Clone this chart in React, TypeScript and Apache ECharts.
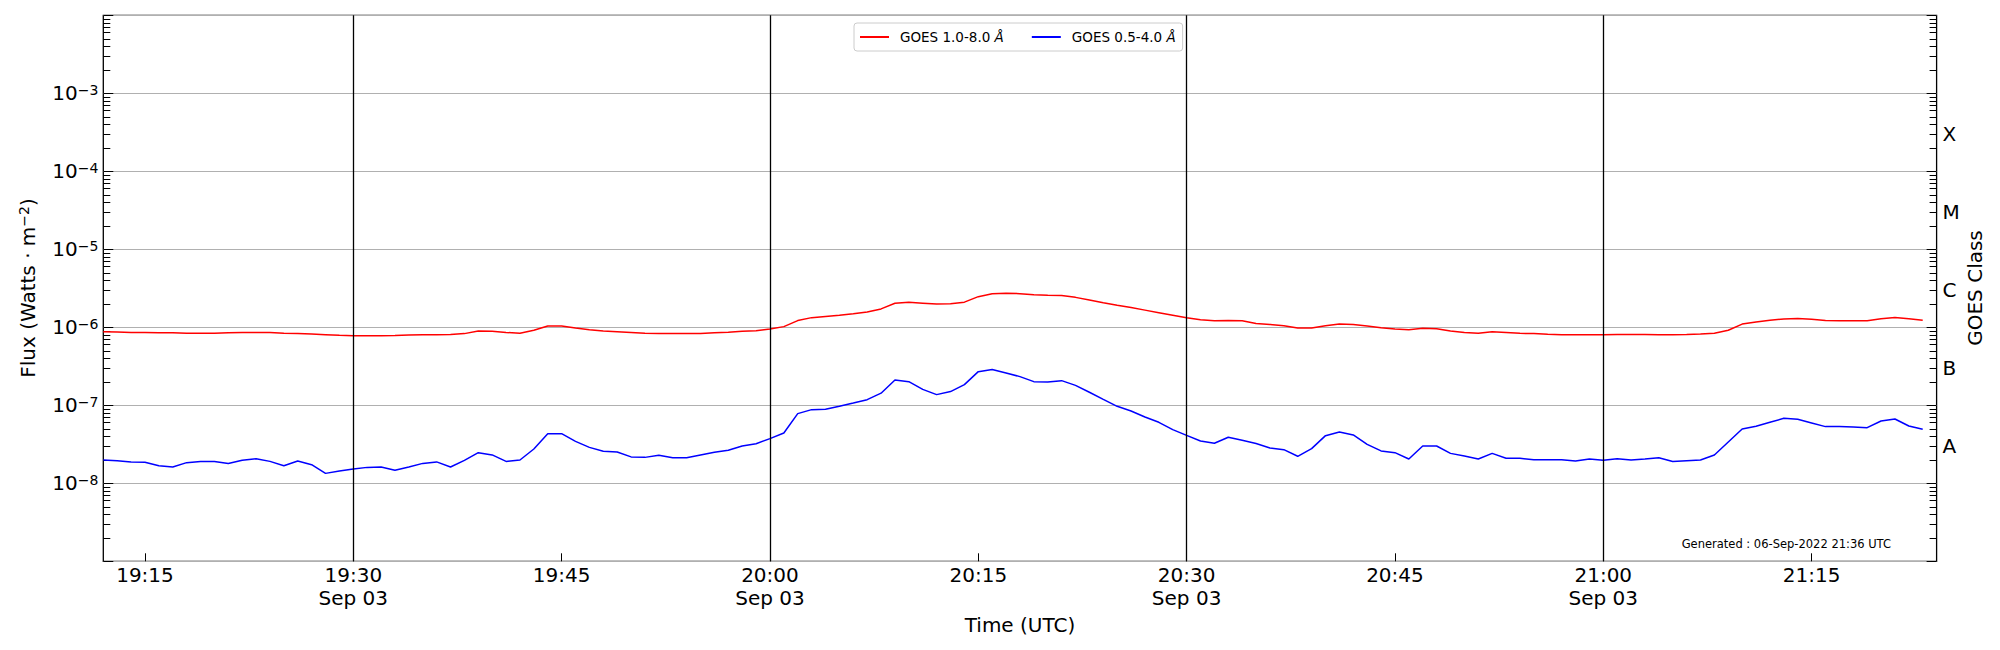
import React, { useEffect, useRef } from "react";
import * as echarts from "echarts";

const FONT = "'DejaVu Sans', sans-serif";

// ---- data (1-minute GOES XRS samples, starting at START_TIME) ----
const START_TIME = "19:12";
const X_MIN_TIME = "19:12";
const X_MAX_TIME = "21:24";

const GOES_LONG = [
  8.8e-7, 8.7e-7, 8.6e-7, 8.6e-7, 8.5e-7, 8.5e-7, 8.4e-7, 8.4e-7, 8.4e-7, 8.5e-7,
  8.6e-7, 8.6e-7, 8.6e-7, 8.4e-7, 8.3e-7, 8.2e-7, 8.05e-7, 7.9e-7, 7.8e-7, 7.8e-7,
  7.8e-7, 7.85e-7, 7.95e-7, 8.0e-7, 8.0e-7, 8.1e-7, 8.3e-7, 8.97e-7, 8.9e-7, 8.6e-7,
  8.4e-7, 9.15e-7, 1.04e-6, 1.04e-6, 9.8e-7, 9.3e-7, 8.97e-7, 8.8e-7, 8.6e-7, 8.4e-7,
  8.3e-7, 8.3e-7, 8.3e-7, 8.35e-7, 8.5e-7, 8.65e-7, 8.9e-7, 9.06e-7, 9.5e-7, 1.02e-6,
  1.22e-6, 1.33e-6, 1.38e-6, 1.43e-6, 1.49e-6, 1.57e-6, 1.72e-6, 2.03e-6, 2.09e-6, 2.04e-6,
  1.99e-6, 2.0e-6, 2.1e-6, 2.47e-6, 2.7e-6, 2.73e-6, 2.7e-6, 2.62e-6, 2.57e-6, 2.56e-6,
  2.42e-6, 2.24e-6, 2.07e-6, 1.92e-6, 1.79e-6, 1.66e-6, 1.54e-6, 1.43e-6, 1.33e-6, 1.25e-6,
  1.21e-6, 1.22e-6, 1.21e-6, 1.12e-6, 1.09e-6, 1.05e-6, 9.8e-7, 9.8e-7, 1.05e-6, 1.1e-6,
  1.09e-6, 1.04e-6, 9.9e-7, 9.5e-7, 9.3e-7, 9.7e-7, 9.6e-7, 8.97e-7, 8.55e-7, 8.4e-7,
  8.8e-7, 8.6e-7, 8.37e-7, 8.3e-7, 8.13e-7, 8.05e-7, 8.05e-7, 8.05e-7, 8.05e-7, 8.1e-7,
  8.1e-7, 8.1e-7, 8.05e-7, 8.05e-7, 8.1e-7, 8.2e-7, 8.4e-7, 9.15e-7, 1.1e-6, 1.17e-6,
  1.23e-6, 1.28e-6, 1.3e-6, 1.27e-6, 1.22e-6, 1.21e-6, 1.21e-6, 1.21e-6, 1.29e-6, 1.34e-6,
  1.29e-6, 1.23e-6,
];

const GOES_SHORT = [
  1.99e-8, 1.95e-8, 1.88e-8, 1.86e-8, 1.68e-8, 1.62e-8, 1.84e-8, 1.9e-8, 1.9e-8, 1.79e-8,
  1.97e-8, 2.07e-8, 1.91e-8, 1.68e-8, 1.93e-8, 1.73e-8, 1.34e-8, 1.44e-8, 1.53e-8, 1.6e-8,
  1.62e-8, 1.47e-8, 1.62e-8, 1.8e-8, 1.88e-8, 1.62e-8, 1.97e-8, 2.47e-8, 2.31e-8, 1.91e-8,
  1.99e-8, 2.75e-8, 4.33e-8, 4.33e-8, 3.45e-8, 2.89e-8, 2.57e-8, 2.52e-8, 2.18e-8, 2.15e-8,
  2.29e-8, 2.13e-8, 2.13e-8, 2.31e-8, 2.5e-8, 2.65e-8, 3.01e-8, 3.22e-8, 3.74e-8, 4.42e-8,
  7.82e-8, 8.8e-8, 8.89e-8, 9.71e-8, 1.07e-7, 1.18e-7, 1.43e-7, 2.11e-7, 2.01e-7, 1.6e-7,
  1.37e-7, 1.5e-7, 1.84e-7, 2.7e-7, 2.87e-7, 2.6e-7, 2.33e-7, 2.01e-7, 1.99e-7, 2.07e-7,
  1.8e-7, 1.47e-7, 1.19e-7, 9.71e-8, 8.45e-8, 7.08e-8, 6.05e-8, 4.88e-8, 4.12e-8, 3.49e-8,
  3.26e-8, 3.89e-8, 3.56e-8, 3.23e-8, 2.84e-8, 2.7e-8, 2.22e-8, 2.78e-8, 4.08e-8, 4.55e-8,
  4.17e-8, 3.16e-8, 2.6e-8, 2.47e-8, 2.05e-8, 3.01e-8, 3.01e-8, 2.42e-8, 2.24e-8, 2.05e-8,
  2.42e-8, 2.09e-8, 2.09e-8, 2.01e-8, 2.01e-8, 2.01e-8, 1.93e-8, 2.05e-8, 1.97e-8, 2.07e-8,
  1.99e-8, 2.05e-8, 2.13e-8, 1.9e-8, 1.95e-8, 1.99e-8, 2.31e-8, 3.39e-8, 4.97e-8, 5.38e-8,
  6.05e-8, 6.81e-8, 6.62e-8, 5.94e-8, 5.33e-8, 5.33e-8, 5.28e-8, 5.17e-8, 6.3e-8, 6.68e-8,
  5.43e-8, 4.92e-8,
];

const SERIES_NAMES = ["GOES 1.0-8.0 Å", "GOES 0.5-4.0 Å"];
const SERIES_COLORS = ["#ff0000", "#0000ff"];

const X_TICK_TIMES = ["19:15", "19:30", "19:45", "20:00", "20:15", "20:30", "20:45", "21:00", "21:15"];
const X_DATE_TICKS = ["19:30", "20:00", "20:30", "21:00"];
const DATE_LABEL = "Sep 03";

const Y_MIN = 1e-9;
const Y_MAX = 1e-2;
const Y_DECADES = [1e-9, 1e-8, 1e-7, 1e-6, 1e-5, 1e-4, 1e-3, 1e-2];
const Y_LABELED = [1e-8, 1e-7, 1e-6, 1e-5, 1e-4, 1e-3];
const CLASS_LETTERS = ["A", "B", "C", "M", "X"];
const CLASS_VALUES = [3e-8, 3e-7, 3e-6, 3e-5, 3e-4];

const GENERATED_TEXT = "Generated : 06-Sep-2022 21:36 UTC";

// ---- helpers ----
const toMin = (s: string) => {
  const [h, m] = s.split(":").map(Number);
  return h * 60 + m;
};
const fmtMin = (v: number) => {
  const h = Math.floor(v / 60);
  const m = Math.round(v - h * 60);
  return `${String(h).padStart(2, "0")}:${String(m).padStart(2, "0")}`;
};

const MINOR_TICKS: number[] = [];
for (let e = -9; e <= -3; e++) {
  for (let k = 2; k <= 9; k++) MINOR_TICKS.push(Number((k * Math.pow(10, e)).toPrecision(3)));
}

export default function App() {
  const ref = useRef<HTMLDivElement>(null);

  useEffect(() => {
    document.body.style.margin = "0";
    if (!ref.current) return;
    const chart = echarts.init(ref.current, undefined, { renderer: "svg" });

    const start = toMin(START_TIME);
    const mk = (arr: number[]) => arr.map((v, i) => [start + i, v]);
    const xTicks = X_TICK_TIMES.map(toMin);

    const baseY = {
      type: "log",
      logBase: 10,
      min: Y_MIN,
      max: Y_MAX,
      axisLine: { show: false },
      splitLine: { show: false },
    };

    const option: any = {
      animation: false,
      backgroundColor: "#ffffff",
      textStyle: { fontFamily: FONT },
      grid: {
        left: 103.3,
        right: 63.4,
        top: 15.3,
        bottom: 88.7,
        show: true,
        borderColor: "#000",
        borderWidth: 1.3,
        backgroundColor: "transparent",
        containLabel: false,
      },
      legend: {
        left: 854,
        top: 23,
        padding: [7, 7, 7, 5],
        itemWidth: 29,
        itemHeight: 14,
        itemGap: 27,
        borderColor: "#cccccc",
        borderWidth: 1,
        borderRadius: 3,
        backgroundColor: "#ffffff",
        itemStyle: { opacity: 0 },
        data: SERIES_NAMES,
        formatter: (name: string) => name.replace("Å", "{i|Å}"),
        textStyle: {
          fontSize: 13.5,
          color: "#000",
          fontFamily: FONT,
          padding: [0, 0, 0, 6],
          rich: { i: { fontStyle: "italic", fontSize: 13.5, color: "#000", fontFamily: FONT } },
        },
      },
      xAxis: {
        type: "value",
        min: toMin(X_MIN_TIME),
        max: toMin(X_MAX_TIME),
        axisLine: { show: false },
        splitLine: { show: false },
        axisTick: {
          show: true,
          inside: true,
          length: 8,
          customValues: xTicks,
          lineStyle: { color: "#000", width: 1 },
        },
        axisLabel: {
          customValues: xTicks,
          fontSize: 20,
          lineHeight: 23,
          margin: 2,
          color: "#000",
          fontFamily: FONT,
          formatter: (v: number) => {
            const s = fmtMin(v);
            return X_DATE_TICKS.includes(s) ? `${s}\n${DATE_LABEL}` : s;
          },
        },
      },
      yAxis: [
        {
          ...baseY,
          position: "left",
          splitLine: { show: true, lineStyle: { color: "#b0b0b0", width: 1 } },
          axisTick: { show: true, inside: true, length: 10, customValues: Y_DECADES, lineStyle: { color: "#000", width: 1 } },
          axisLabel: {
            customValues: Y_LABELED,
            margin: 5,
            color: "#000",
            formatter: (v: number) => `{b|10}{s|−${-Math.round(Math.log10(v))}}`,
            rich: {
              b: { fontSize: 20, lineHeight: 20, fontFamily: FONT, color: "#000" },
              s: { fontSize: 14, lineHeight: 9, verticalAlign: "top", fontFamily: FONT, color: "#000" },
            },
          },
        },
        {
          ...baseY,
          position: "left",
          offset: 0,
          axisLabel: { show: false },
          axisTick: { show: true, inside: true, length: 7, customValues: MINOR_TICKS, lineStyle: { color: "#000", width: 1 } },
        },
        {
          ...baseY,
          position: "right",
          offset: 0,
          axisTick: { show: true, inside: true, length: 10, customValues: Y_DECADES, lineStyle: { color: "#000", width: 1 } },
          axisLabel: {
            customValues: CLASS_VALUES,
            margin: 6,
            fontSize: 20,
            color: "#000",
            fontFamily: FONT,
            formatter: (v: number) => {
              const idx = CLASS_VALUES.findIndex((c) => Math.abs(c - v) / c < 1e-6);
              return idx >= 0 ? CLASS_LETTERS[idx] : "";
            },
          },
        },
        {
          ...baseY,
          position: "right",
          offset: 0,
          axisLabel: { show: false },
          axisTick: { show: true, inside: true, length: 7, customValues: MINOR_TICKS, lineStyle: { color: "#000", width: 1 } },
        },
      ],
      graphic: [
        {
          type: "text",
          x: 1891,
          y: 544,
          style: {
            text: GENERATED_TEXT,
            fontSize: 11.5,
            fontFamily: FONT,
            fill: "#000",
            align: "right",
            verticalAlign: "middle",
          },
        },
        {
          type: "text",
          x: 1020,
          y: 625,
          style: {
            text: "Time (UTC)",
            fontSize: 20,
            fontFamily: FONT,
            fill: "#000",
            align: "center",
            verticalAlign: "middle",
          },
        },
        {
          type: "text",
          x: 28,
          y: 288,
          rotation: Math.PI / 2,
          style: {
            text: "{a|Flux (Watts · m}{s|−2}{a|)}",
            align: "center",
            verticalAlign: "middle",
            rich: {
              a: { fontSize: 20, lineHeight: 22, fontFamily: FONT, fill: "#000", color: "#000" },
              s: { fontSize: 14, lineHeight: 10, verticalAlign: "top", fontFamily: FONT, fill: "#000", color: "#000" },
            },
          },
        },
        {
          type: "text",
          x: 1974.5,
          y: 288,
          rotation: Math.PI / 2,
          style: {
            text: "GOES Class",
            fontSize: 20,
            fontFamily: FONT,
            fill: "#000",
            align: "center",
            verticalAlign: "middle",
          },
        },
      ],
      series: [
        {
          name: SERIES_NAMES[0],
          type: "line",
          data: mk(GOES_LONG),
          showSymbol: false,
          symbol: "none",
          color: SERIES_COLORS[0],
          lineStyle: { color: SERIES_COLORS[0], width: 1.5 },
          z: 3,
          markLine: {
            silent: true,
            symbol: ["none", "none"],
            label: { show: false },
            lineStyle: { color: "#000", width: 1.3, type: "solid" },
            data: X_DATE_TICKS.map((t) => ({ xAxis: toMin(t) })),
          },
        },
        {
          name: SERIES_NAMES[1],
          type: "line",
          data: mk(GOES_SHORT),
          showSymbol: false,
          symbol: "none",
          color: SERIES_COLORS[1],
          lineStyle: { color: SERIES_COLORS[1], width: 1.5 },
          z: 3,
        },
      ],
    };

    chart.setOption(option);
    return () => chart.dispose();
  }, []);

  return <div ref={ref} style={{ width: 2000, height: 650, background: "#fff" }} />;
}
